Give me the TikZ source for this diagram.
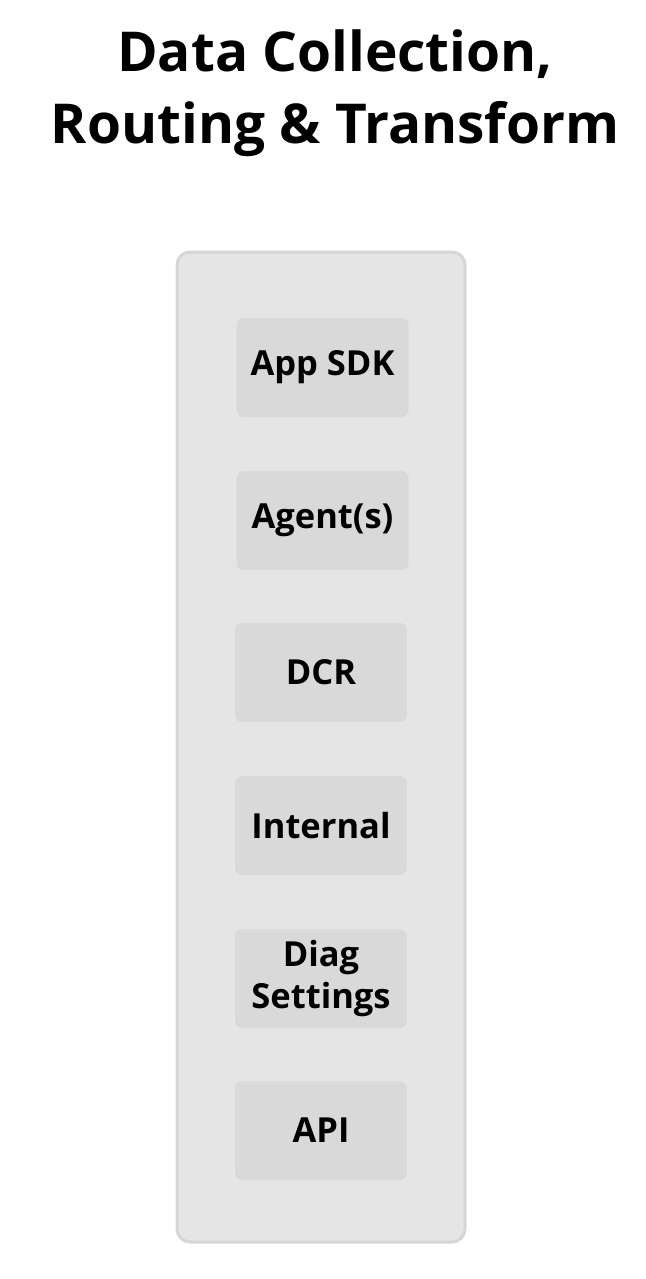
\documentclass[tikz,border=0pt]{standalone}
\usepackage{fontspec}
\setmainfont{Open Sans}
\definecolor{outerfill}{HTML}{E5E5E5}
\definecolor{outerline}{HTML}{D6D6D6}
\definecolor{innerfill}{HTML}{D9D9D9}
\begin{document}
\begin{tikzpicture}[x=1pt,y=-1pt,
  srcbox/.style={fill=innerfill, draw=none, rounded corners=7pt, minimum width=172pt, minimum height=99pt, align=center, inner sep=0pt, font=\fontsize{34.5}{42}\selectfont\bfseries},
  titletext/.style={align=center, font=\fontsize{55}{72}\selectfont\bfseries}]
\useasboundingbox (0,0) rectangle (645,1279);
\node[titletext] (title) at (335,93) {Data Collection,\\Routing \& Transform};
\node[fill=outerfill, draw=outerline, line width=3pt, rounded corners=13pt, minimum width=288pt, minimum height=990pt, inner sep=0pt] (panel) at (321,747) {};
\node[srcbox] (sdk) at (322.5,367.5) {App SDK};
\node[srcbox] (agents) at (322.5,520.5) {Agent(s)};
\node[srcbox] (dcr) at (321,672.5) {DCR};
\node[srcbox] (internal) at (321,825.5) {Internal};
\node[srcbox] (diag) at (321,978.5) {Diag\\Settings};
\node[srcbox] (api) at (321,1130.5) {API};
\end{tikzpicture}
\end{document}
